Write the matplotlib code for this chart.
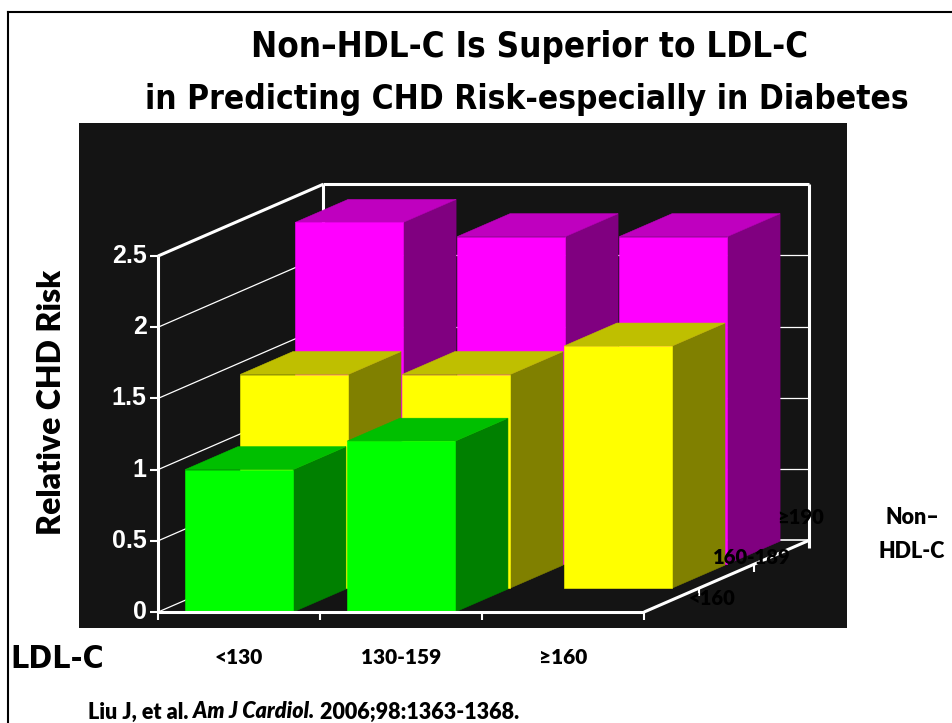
import matplotlib
matplotlib.use("Agg")
import matplotlib.pyplot as plt
from matplotlib.patches import Polygon
from matplotlib.lines import Line2D

# LDL-C groups along the front, non-HDL-C groups going back
ldl_labels = ["<130", "130-159", "≥160"]
nonhdl_labels = ["<160", "160-189", "≥190"]

# relative CHD risk, one list per non-HDL-C row (front to back); None = no bar
risk_nonhdl_lt160 = [1.0, 1.2, None]
risk_nonhdl_160_189 = [1.5, 1.5, 1.7]
risk_nonhdl_ge190 = [2.4, 2.3, 2.3]
y_ticks = [0, 0.5, 1, 1.5, 2, 2.5]

rows = [risk_nonhdl_lt160, risk_nonhdl_160_189, risk_nonhdl_ge190]
front_cols = ["#00ff00", "#ffff00", "#ff00ff"]
top_cols = ["#00bf00", "#bfbf00", "#bf00bf"]
side_cols = ["#008000", "#808000", "#800080"]

# oblique depth: one row moves this far right / up in data units
DX, DY = 0.34, 0.168
BAR_W = 0.667
BAR_D = 0.96
NARROW = dict(family="DejaVu Sans", fontstretch="condensed", fontweight="bold")
SANS = dict(family=["Lato", "DejaVu Sans"], fontweight=800)


def proj(x, y, z):
    return (x + z * DX, y + z * DY)


fig = plt.figure(figsize=(9.52, 7.23), dpi=100)
ax = fig.add_axes([79 / 952, 1 - 628 / 723, 768 / 952, 505 / 723])
ax.set_facecolor("#141414")
ax.set_xlim(-0.488, 4.253)
ax.set_ylim(-0.112, 3.434)
for s in ax.spines.values():
    s.set_visible(False)
ax.set_xticks([])
ax.set_yticks([])

nrow = len(rows)
ncat = len(ldl_labels)
ymax = y_ticks[-1]


def line(p, q, lw, z=1, c="white"):
    ax.plot([p[0], q[0]], [p[1], q[1]], color=c, lw=lw, zorder=z,
            solid_capstyle="butt")


# walls and gridlines (behind bars)
for v in y_ticks:
    lw = 2.2 if v == ymax else 0.9
    line(proj(0, v, 0), proj(0, v, nrow), lw)
    if v > 0:
        line(proj(0, v, nrow), proj(ncat, v, nrow), lw)
line(proj(0, 0, nrow), proj(ncat, 0, nrow), 1.2)
line(proj(0, 0, nrow), proj(0, ymax, nrow), 2.2)
line(proj(ncat, -0.055, nrow), proj(ncat, ymax, nrow), 2.2)

# bars, back row first, left to right
for k in range(nrow - 1, -1, -1):
    z0, z1 = k, k + BAR_D
    for i, h in enumerate(rows[k]):
        if h is None:
            continue
        x0 = i + (1 - BAR_W) / 2
        x1 = x0 + BAR_W
        zo = 10 + (nrow - k) * 10 + i
        faces = [
            ([proj(x1, 0, z0), proj(x1, 0, z1), proj(x1, h, z1), proj(x1, h, z0)], side_cols[k]),
            ([proj(x0, h, z0), proj(x1, h, z0), proj(x1, h, z1), proj(x0, h, z1)], top_cols[k]),
            ([proj(x0, 0, z0), proj(x1, 0, z0), proj(x1, h, z0), proj(x0, h, z0)], front_cols[k]),
        ]
        for pts, col in faces:
            ax.add_patch(Polygon(pts, closed=True, facecolor=col, edgecolor=col,
                                 lw=0.4, zorder=zo))

# front axes on top
line(proj(0, 0, 0), proj(0, ymax, 0), 2.2, z=60)
for v in y_ticks:
    line((-0.05, v), (0, v), 1.5, z=60)
    ax.text(-0.07, v, f"{v:g}", ha="right", va="center", color="white",
            fontsize=18, fontweight="bold", family=["Liberation Sans", "DejaVu Sans"])
line((0, 0), (ncat, 0), 2.2, z=60)
for i in range(ncat + 1):
    line((i, 0), (i, -0.055), 1.5, z=60)
line(proj(ncat, 0, 0), proj(ncat, 0, nrow), 2.2, z=60)
for k in range(1, nrow + 1):
    p = proj(ncat, 0, k)
    line(p, (p[0], p[1] - 0.055), 1.5, z=60)

# category labels
for i, lab in enumerate(ldl_labels):
    ax.text(i + 0.5, -0.316, lab, ha="center", va="center", color="black",
            fontsize=15, clip_on=False, **SANS)
depth_pos = [(3.42, 0.098), (3.667, 0.386), (3.963, 0.667)]
for (x, y), lab in zip(depth_pos, nonhdl_labels):
    ax.text(x, y, lab, ha="center", va="center", color="black",
            fontsize=14.5, zorder=70, **SANS)

# slide texts
fig.text(530 / 952, 1 - 47 / 723, "Non\u2013HDL-C Is Superior to LDL-C", ha="center",
         va="center", fontsize=25, **NARROW)
fig.text(527 / 952, 1 - 100 / 723, "in Predicting CHD Risk-especially in Diabetes",
         ha="center", va="center", fontsize=24, **NARROW)
fig.text(52 / 952, 1 - 402 / 723, "Relative CHD Risk", rotation=90, ha="center",
         va="center", fontsize=23, **SANS)
fig.text(10 / 952, 1 - 660 / 723, "LDL-C", ha="left", va="center", fontsize=23, **NARROW)
fig.text(912 / 952, 1 - 518 / 723, "Non\u2013", ha="center", va="center",
         fontsize=15.5, **SANS)
fig.text(912 / 952, 1 - 551 / 723, "HDL-C", ha="center", va="center",
         fontsize=15.5, **SANS)

# citation with italic journal name
renderer = fig.canvas.get_renderer()
xpos = 88
for piece, style in [("Liu J, et al. ", "normal"), ("Am J Cardiol.", "italic"),
                     (" 2006;98:1363-1368.", "normal")]:
    t = fig.text(xpos / 952, 1 - 712 / 723, piece, ha="left", va="center",
                 fontsize=15.5, style=style, **SANS)
    xpos += t.get_window_extent(renderer).width

# slide border
fig.add_artist(Line2D([8 / 952, 1], [1 - 12 / 723] * 2, color="black", lw=1.5))
fig.add_artist(Line2D([8 / 952] * 2, [0, 1 - 12 / 723], color="black", lw=1.5))

fig.savefig("out.png", dpi=100)
